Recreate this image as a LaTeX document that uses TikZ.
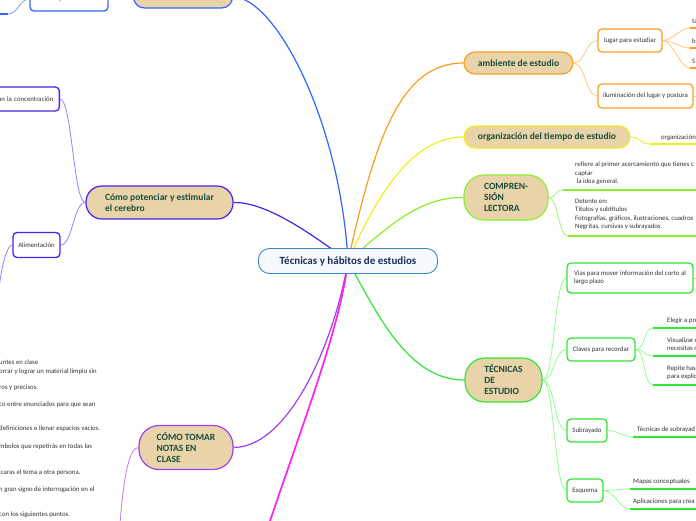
\documentclass[tikz,border=0pt]{standalone}
\usepackage{fontspec}
\setmainfont{Carlito}
\usetikzlibrary{backgrounds}
\definecolor{tanfill}{HTML}{E8D4A8}
\definecolor{topictext}{HTML}{1A4A3C}
\definecolor{leaftext}{HTML}{333333}
\definecolor{coretext}{HTML}{1E2D55}
\definecolor{coreline}{HTML}{3D85C6}
\definecolor{corefill}{HTML}{F5F9FD}
\definecolor{blueline}{HTML}{3366FF}
\definecolor{bluetwig}{HTML}{80A8F0}
\definecolor{indigoline}{HTML}{4A22EE}
\definecolor{indigotwig}{HTML}{9A80F8}
\definecolor{violetline}{HTML}{A040F0}
\definecolor{violettwig}{HTML}{C27AF2}
\definecolor{magentaline}{HTML}{FF22EE}
\definecolor{orangeline}{HTML}{F7A020}
\definecolor{orangetwig}{HTML}{FCCB80}
\definecolor{yellowline}{HTML}{EEEE22}
\definecolor{limeline}{HTML}{8CEE30}
\definecolor{limetwig}{HTML}{A8F070}
\definecolor{greenline}{HTML}{33E633}
\definecolor{greentwig}{HTML}{90FF90}
\newcommand\leaffont{\fontsize{6.8}{8.3}\selectfont}
\begin{document}
\begin{tikzpicture}[x=1pt,y=-1pt,line join=round,line cap=round]
\tikzset{
  twig/.style={to path={.. controls +(#1,0) and +(-#1,0) .. (\tikztotarget)}},
  twig/.default=12,
  hub/.style={draw=coreline,line width=0.9pt,fill=corefill,text=coretext,rounded corners=11pt,
    font=\fontsize{11}{13}\selectfont\bfseries,inner sep=0pt},
  topic/.style={draw=#1,line width=1.2pt,fill=tanfill,text=topictext,align=left,
    font=\fontsize{9.5}{11}\selectfont\bfseries,inner sep=0pt},
  box/.style={draw=#1,line width=1.3pt,fill=white,rounded corners=4pt,text=leaftext,
    font=\leaffont,inner sep=0pt},
  leaf/.style={text=leaftext,font=\leaffont,inner sep=0pt,align=left,anchor=west},
  uline/.style={draw=#1,line width=1.6pt},
  branch/.style={draw=#1,line width=1.2pt},
  thin/.style={draw=#1,line width=0.8pt}
}
\useasboundingbox (0,0) rectangle (696,520);

% centre
\node[hub,minimum width=179pt,minimum height=25pt] (core) at (348,261) {Técnicas y hábitos de estudios};

% habitos (top, blue)
\node[topic=blueline,minimum width=99pt,minimum height=22pt,rounded corners=11pt] (habitos) at (183,-3) {hábitos de estudio};
\node[box=blueline,minimum width=78pt,minimum height=24pt] (procras) at (69,-1) {Evitar la procrastinación};
\coordinate (u0) at (8,14);

% cerebro (indigo)
\node[topic=indigoline,minimum width=147pt,minimum height=33pt,rounded corners=16pt,
  font=\fontsize{9.5}{10.5}\selectfont\bfseries] (cerebro) at (159.5,202.5) {Cómo potenciar y estimular\\el cerebro};
\node[box=indigoline,anchor=east,minimum height=24pt,text width=70pt,align=right,inner xsep=6pt] (concen) at (60,99) {an la concentración};
\node[box=indigoline,minimum width=47pt,minimum height=25pt] (alimento) at (36.5,245) {Alimentación};
\coordinate (a0) at (-4,340);

% notas (violet)
\node[topic=violetline,minimum width=94pt,minimum height=44pt,rounded corners=20pt] (notas) at (186,447.5) {CÓMO TOMAR\\NOTAS EN\\CLASE};
\coordinate (n0) at (119,540);
\coordinate (m0) at (262,545);
\foreach \y/\t [count=\i] in {362/untes en clase,372/orrar y lograr un material limpio sin,
  388/ros y precisos.,405/co entre enunciados para que sean,429/definiciones o llenar espacios vacíos.,
  447/mbolos que repetirás en todas las,473/icaras el tema a otra persona.,
  490/n gran signo de interrogación en el,515/con los siguientes puntos.}
  \node[leaf] (apunte\i) at (-1,\y) {\t};

% ambiente (orange)
\node[topic=orangeline,minimum width=109pt,minimum height=22pt,rounded corners=11pt] (ambiente) at (518.5,63) {ambiente de estudio};
\node[box=orangeline,minimum width=64pt,minimum height=23pt] (lugar) at (630,40.5) {lugar para estudiar};
\node[box=orangeline,minimum width=95pt,minimum height=24pt] (luz) at (645.5,96) {iluminación del lugar y postura};
\coordinate (b1) at (690,28);
\coordinate (b2) at (690,48);
\coordinate (b3) at (690,68);
\node[leaf] (lugar1) at (692,21) {ta};
\node[leaf] (lugar2) at (692,41) {b};
\node[leaf] (lugar3) at (692,61) {S};

% tiempo (yellow)
\node[topic=yellowline,minimum width=166pt,minimum height=22pt,rounded corners=11pt] (tiempo) at (547,137) {organización del tiempo de estudio};
\coordinate (o1) at (650,144);
\node[leaf] (tiempo1) at (661,138) {organización};

% lectura (lime)
\node[topic=limeline,minimum width=84pt,minimum height=45pt,rounded corners=20pt] (lectura) at (506,197.5) {COMPREN-\\SIÓN\\LECTORA};
\coordinate (r1) at (563,190);
\coordinate (r2) at (568,236);
\node[leaf] (lectura1) at (575,173.3) {refiere al primer acercamiento que tienes c\\captar\\\ la idea general.};
\node[leaf] (lectura2) at (575,214.5) {Detente en:\\Títulos y subtítulos\\Fotografías, gráficos, ilustraciones, cuadros\\Negritas, cursivas y subrayados.};

% tecnicas (green)
\node[topic=greenline,minimum width=77pt,minimum height=44pt,rounded corners=20pt] (tecnicas) at (503.5,380) {TÉCNICAS\\DE\\ESTUDIO};
\node[box=greenline,minimum width=126pt,minimum height=30pt,align=left] (vias) at (630,278) {Vías para mover información del corto al\\largo plazo};
\node[box=greenline,minimum width=68pt,minimum height=23pt] (claves) at (601,349.5) {Claves para recordar};
\node[box=greenline,minimum width=40pt,minimum height=23pt] (subr) at (587,430.5) {Subrayado};
\node[box=greenline,minimum width=36pt,minimum height=23pt] (esquema) at (585,490.5) {Esquema};
\coordinate (k1) at (653,328);
\coordinate (k2) at (653,356);
\coordinate (k3) at (653,385);
\node[leaf] (claves1) at (667,321) {Elegir a pre};
\node[leaf] (claves2) at (667,344.5) {Visualizar c\\necesitas r};
\node[leaf] (claves3) at (667,372.5) {Repite hast\\para explic};
\coordinate (s1) at (633,437);
\node[leaf] (subr1) at (637,430) {Técnicas de subrayad};
\coordinate (e1) at (630,489);
\coordinate (e2) at (630,509);
\node[leaf] (esquema1) at (633,482) {Mapas conceptuales};
\node[leaf] (esquema2) at (633,502) {Aplicaciones para crea};

\begin{scope}[on background layer]
\fill[white] (0,0) rectangle (696,520);
% main branches
\draw[branch=blueline] (core.center) .. controls (340,120) and (275,-3) .. (habitos.east);
\draw[branch=indigoline] (core.center) .. controls (300,225) and (262,202) .. (cerebro.east);
\draw[branch=violetline] (core.center) .. controls (335,340) and (290,447) .. (notas.east);
\draw[magentaline,line width=1.7pt] (core.center) .. controls (340,330) and (300,430) .. (m0);
\draw[branch=orangeline] (core.center) .. controls (375,140) and (400,63) .. (ambiente.west);
\draw[branch=yellowline] (core.center) .. controls (375,200) and (410,137) .. (tiempo.west);
\draw[branch=limeline] (core.center) .. controls (390,225) and (420,197) .. (lectura.west);
\draw[branch=greenline] (core.center) .. controls (380,320) and (410,380) .. (tecnicas.west);
% blue
\draw[thin=bluetwig] (procras.west) .. controls +(-10,0) and +(10,0) .. (u0);
\draw[uline=blueline] (u0) -- ++(-20,0);
% indigo
\draw[thin=indigotwig,twig] (concen.east) to (cerebro.west);
\draw[thin=indigotwig,twig] (alimento.east) to (cerebro.west);
\draw[thin=indigotwig] (alimento.west) .. controls +(-8,0) and +(0,-50) .. (a0);
% violet
\draw[thin=violettwig] (notas.west) .. controls +(-8,0) and +(4,-70) .. (n0);
% orange
\draw[thin=orangetwig,twig] (ambiente.east) to (lugar.west);
\draw[thin=orangetwig,twig] (ambiente.east) to (luz.west);
\foreach \b in {b1,b2,b3}{
  \draw[thin=orangetwig,twig=10] (lugar.east) to (\b);
  \draw[uline=orangeline] (\b) -- ++(20,0);
}
\draw[thin=orangetwig] (luz.east) -- ++(10,0);
% yellow
\draw[thin=yellowline,twig=10] (tiempo.east) to (o1);
\draw[uline=yellowline] (o1) -- ++(60,0);
% lime
\foreach \r in {r1,r2}{
  \draw[thin=limetwig,twig=10] (lectura.east) to (\r);
  \draw[uline=limeline] (\r) -- ++(140,0);
}
% green
\foreach \c in {vias,claves,subr,esquema}
  \draw[thin=greentwig,twig] (tecnicas.east) to (\c.west);
\draw[thin=greentwig] (vias.east) -- ++(10,0);
\foreach \k in {k1,k2,k3}{
  \draw[thin=greentwig,twig=10] (claves.east) to (\k);
  \draw[uline=greenline] (\k) -- ++(50,0);
}
\draw[thin=greentwig,twig=10] (subr.east) to (s1);
\draw[uline=greenline] (s1) -- ++(70,0);
\foreach \e in {e1,e2}{
  \draw[thin=greentwig,twig=10] (esquema.east) to (\e);
  \draw[uline=greenline] (\e) -- ++(70,0);
}
\end{scope}
\end{tikzpicture}
\end{document}
